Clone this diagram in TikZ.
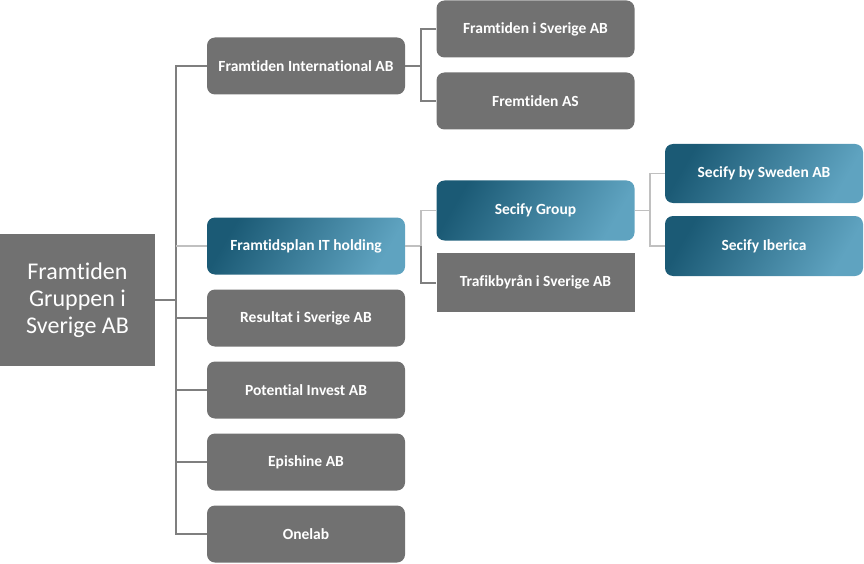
\documentclass[tikz,border=0pt]{standalone}
\usepackage{fontspec}
\setmainfont{Carlito}[Ligatures=NoCommon]
\usetikzlibrary{positioning}
\definecolor{boxgray}{HTML}{717171}
\definecolor{linegray}{HTML}{7F7F7F}
\definecolor{lightline}{HTML}{C0C0C0}
\definecolor{bluedark}{HTML}{1B5A75}
\definecolor{bluelight}{HTML}{5FA3C0}
\begin{document}
\begin{tikzpicture}[x=1pt, y=-1pt, node distance=72pt]
    \tikzstyle{link} = [draw=linegray, line width=2pt]
    \tikzstyle{linklight} = [draw=lightline, line width=1.5pt]
    \tikzstyle{unit} = [rectangle, rounded corners=8pt, fill=boxgray, text=white, font=\fontsize{15.5}{18}\selectfont\bfseries, minimum width=198pt, minimum height=57pt, inner sep=0pt]
    \tikzstyle{unitblue} = [unit, fill=none, left color=bluedark, right color=bluelight, shading angle=60]
    \tikzstyle{unitsq} = [unit, rounded corners=0pt, minimum height=59pt]
    \useasboundingbox (0,0) rectangle (864,564);
    % root
    \node[fill=boxgray, text=white, minimum width=155pt, minimum height=132pt, align=center, inner sep=0pt, font=\fontsize{24}{27}\selectfont] (root) at (77.5,300) {Framtiden\\Gruppen i\\Sverige AB};
    % first level
    \node[unit] (intl) at (306,66) {Framtiden International AB};
    \node[unitblue] (plan) at (306,246) {Framtidsplan IT holding};
    \node[unit, below of = plan] (res) {Resultat i Sverige AB};
    \node[unit, below of = res] (pot) {Potential Invest AB};
    \node[unit, below of = pot] (epi) {Epishine AB};
    \node[unit, below of = epi] (one) {Onelab};
    % second level
    \node[unit] (sve) at (535.5,29) {Framtiden i Sverige AB};
    \node[unit, below of = sve] (fas) {Fremtiden AS};
    \node[unitblue, minimum height=60pt] (sgrp) at (535.5,210.5) {Secify Group};
    \node[unitsq] (trafik) at (535.5,282.5) {Trafikbyrån i Sverige AB};
    % third level
    \node[unitblue, minimum height=59pt] (ssw) at (764,173.5) {Secify by Sweden AB};
    \node[unitblue, minimum height=60pt] (sib) at (764,246) {Secify Iberica};
    % forks
    \coordinate (trunk) at (176,0);
    \coordinate (forka) at (421,0);
    \coordinate (forkb) at (650,0);
    % connectors
    \draw[link] (root) -- (root -| trunk);
    \draw[link] (intl.west) -| (trunk |- one.west) -- (one.west);
    \draw[link] (res.west) -- (res.west -| trunk);
    \draw[link] (pot.west) -- (pot.west -| trunk);
    \draw[link] (epi.west) -- (epi.west -| trunk);
    \draw[linklight] (plan.west) -- (plan.west -| trunk);
    \draw[link] (intl.east) -- (intl.east -| forka);
    \draw[link] (sve.west) -| (forka |- fas.west) -- (fas.west);
    \draw[linklight] (plan.east) -- (plan.east -| forka);
    \draw[linklight] (sgrp.west) -| (forka |- plan.east);
    \draw[link] (forka |- plan.east) |- (trafik.west);
    \draw[linklight] (sgrp.east) -- (sgrp.east -| forkb);
    \draw[linklight] (ssw.west) -| (forkb |- sib.west) -- (sib.west);
\end{tikzpicture}
\end{document}
